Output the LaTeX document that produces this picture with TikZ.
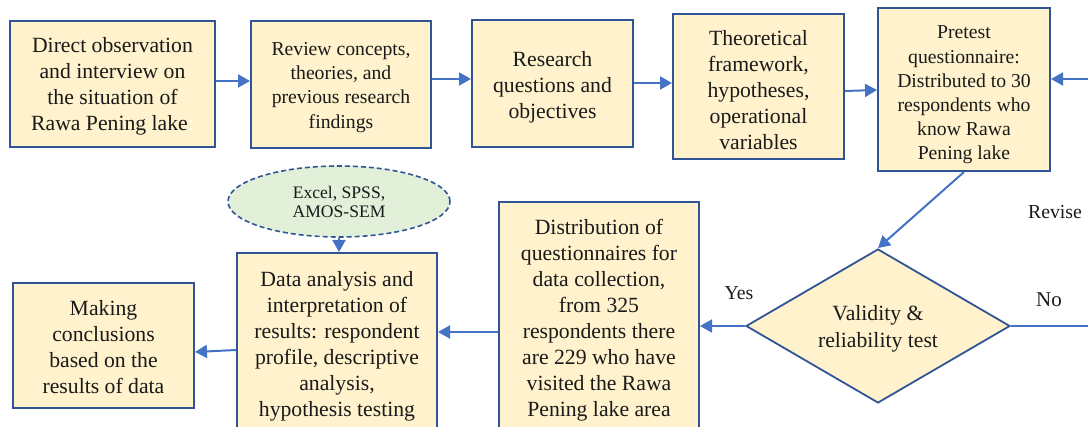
\documentclass[tikz,border=0pt]{standalone}
\usepackage{fontspec}
\setmainfont{Liberation Serif}
\usetikzlibrary{shapes.geometric,arrows.meta}
\definecolor{bfill}{HTML}{FFF2CC}
\definecolor{bline}{HTML}{2F5597}
\definecolor{aline}{HTML}{4472C4}
\definecolor{efill}{HTML}{E2F0D9}
\definecolor{tcol}{HTML}{1A1A1A}
\begin{document}
\begin{tikzpicture}[x=1pt,y=-1pt,
  box/.style={draw=bline,fill=bfill,line width=2pt,rectangle,inner sep=0pt},
  bigtxt/.style={align=center,inner sep=0pt,text=tcol,font=\fontsize{21.7}{26}\selectfont},
  smalltxt/.style={align=center,inner sep=0pt,text=tcol,font=\fontsize{19.7}{24.2}\selectfont},
  arr/.style={draw=aline,line width=2pt,-{Triangle[length=12pt,width=13pt]}},
  lbl/.style={font=\fontsize{19.8}{24}\selectfont,inner sep=0pt,text=tcol}]
\useasboundingbox (0,0) rectangle (1088,427);
% top row
\node[box,minimum width=205pt,minimum height=126pt] (b1) at (112.5,84) {};
\node[bigtxt] (b1t) at ([yshift=-2pt]b1.center)
  {Direct observation\\and interview on\\the situation of\\Rawa Pening lake{\color{white}:}};
\node[box,minimum width=180pt,minimum height=127pt] (b2) at (341,84.5) {};
\node[smalltxt] (b2t) at ([yshift=-3pt]b2.center)
  {Review concepts,\\theories, and\\previous research\\findings};
\node[box,minimum width=161pt,minimum height=127pt] (b3) at (552.5,83.5) {};
\node[bigtxt] (b3t) at ([yshift=-4pt]b3.center)
  {Research\\questions and\\objectives};
\node[box,minimum width=171pt,minimum height=145pt] (b4) at (758.5,86.5) {};
\node[bigtxt] (b4t) at ([yshift=-3.5pt]b4.center)
  {Theoretical\\framework,\\hypotheses,\\operational\\variables};
\node[box,minimum width=172pt,minimum height=163pt] (b5) at (964,89.5) {};
\node[smalltxt] (b5t) at ([yshift=-5.5pt]b5.center)
  {Pretest\\questionnaire:\\Distributed to 30\\respondents who\\know Rawa\\Pening lake};
% decision
\node[diamond,draw=bline,fill=bfill,line width=1.8pt,aspect=1.714,minimum width=264pt,minimum height=154pt,inner sep=0pt] (d) at (878,326) {};
\node[bigtxt,font=\fontsize{21.7}{27}\selectfont] (dt) at ([yshift=-2.5pt]d.center)
  {Validity \&\\reliability test};
% bottom row
\node[box,minimum width=200pt,minimum height=234pt] (b6) at (599,319) {};
\node[bigtxt] (b6t) at ([yshift=-1.5pt]b6.center)
  {Distribution of\\questionnaires for\\data collection,\\from 325\\respondents there\\are 229 who have\\visited the Rawa\\Pening lake area};
\node[box,minimum width=200pt,minimum height=180pt] (b7) at (337,343) {};
\node[bigtxt] (b7t) at ([yshift=-3pt]b7.center)
  {Data analysis and\\interpretation of\\results: respondent\\profile, descriptive\\analysis,\\hypothesis testing};
\node[box,minimum width=181pt,minimum height=125pt] (b8) at (103.5,345.5) {};
\node[bigtxt] (b8t) at ([yshift=-1.5pt]b8.center)
  {Making\\conclusions\\based on the\\results of data};
\node[draw=bline,dash pattern=on 5pt off 3pt,fill=efill,ellipse,line width=1.6pt,minimum width=222pt,minimum height=71pt,inner sep=0pt,align=center,text=tcol,font=\fontsize{17.6}{19}\selectfont] (e) at (339,201.5)
  {Excel, SPSS,\\AMOS-SEM};
% labels
\node[lbl] (yes) at (739,293) {Yes};
\node[lbl,font=\fontsize{21}{24}\selectfont] (no) at (1049,300) {No};
\node[lbl] (rev) at (1055,212) {Revise};
% off-page loop
\coordinate (noend) at (1100,326);
\coordinate (revtop) at (1100,79);
% connectors
\draw[arr] (b1.east |- 0,81) -- (b2.west |- 0,81);
\draw[arr] (b2.east |- 0,79) -- (b3.west |- 0,79);
\draw[arr] (b3.east |- 0,83) -- (b4.west |- 0,83);
\draw[arr] (b4.east |- 0,91) -- (b5.west |- 0,90);
\draw[arr] (b5.south) -- (d.north);
\draw[arr] (d.west) -- (b6.east |- d.west);
\draw[arr] (b6.west |- 0,332) -- (b7.east |- 0,332);
\draw[arr] (b7.west |- 0,350) -- (b8.east |- 0,352);
\draw[arr] (e.south) -- (b7.north -| e.south);
\draw[arr] (d.east) -- (noend) -- (revtop) -- (b5.east |- revtop);
\end{tikzpicture}
\end{document}
